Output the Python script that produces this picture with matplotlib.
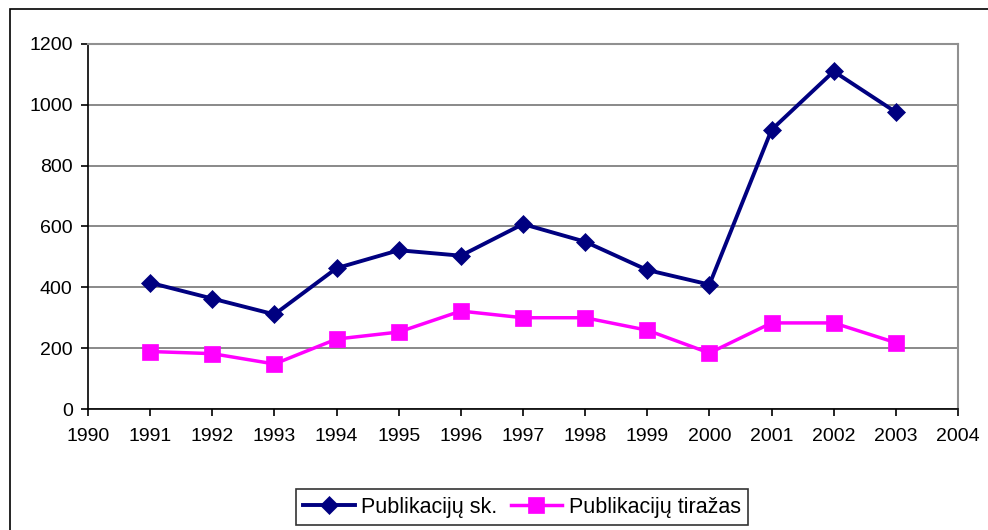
import matplotlib
matplotlib.use("Agg")
import matplotlib.pyplot as plt
from matplotlib.patches import Rectangle

years = [1991, 1992, 1993, 1994, 1995, 1996, 1997, 1998, 1999, 2000, 2001, 2002, 2003]
publikaciju_sk = [415, 363, 311, 463, 522, 504, 608, 550, 457, 409, 918, 1110, 976]
publikaciju_tirazas = [189, 182, 148, 230, 253, 322, 300, 300, 259, 184, 283, 283, 218]
x_ticks = list(range(1990, 2005))
y_ticks = [0, 200, 400, 600, 800, 1000, 1200]

plt.rcParams["font.family"] = ["Liberation Sans", "DejaVu Sans"]

fig = plt.figure(figsize=(9.88, 5.30), dpi=100)
ax = fig.add_axes([88 / 988, 1 - 409 / 530, 870 / 988, 365 / 530])

# outer chart frame (runs off right/bottom edge like the source)
fig.patches.append(Rectangle((10 / 988, -0.05), 1.2, (530 - 9) / 530 + 0.05,
                             transform=fig.transFigure, fill=False,
                             edgecolor="black", linewidth=1.2))

ax.plot(years, publikaciju_sk, color="#000080", linewidth=2.8, marker="D",
        markersize=9.5, markeredgewidth=0.5, label="Publikacijų sk.")
ax.plot(years, publikaciju_tirazas, color="#FF00FF", linewidth=2.5, marker="s",
        markersize=12, markeredgewidth=0.5, label="Publikacijų tiražas")

ax.set_xlim(1990, 2004)
ax.set_ylim(0, 1200)
ax.set_xticks(x_ticks)
ax.set_yticks(y_ticks)
ax.tick_params(axis="both", labelsize=14, direction="out", length=5, width=1.2)
ax.tick_params(axis="x", pad=9)
ax.tick_params(axis="y", pad=6)

ax.grid(True, axis="y", color="#808080", linewidth=1.3)
ax.set_axisbelow(True)
for s in ["top", "right"]:
    ax.spines[s].set_color("#909090")
    ax.spines[s].set_linewidth(1.5)
for s in ["left", "bottom"]:
    ax.spines[s].set_color("black")
    ax.spines[s].set_linewidth(1.2)

leg = ax.legend(loc="center", bbox_to_anchor=(522 / 988, 23 / 530),
                bbox_transform=fig.transFigure, ncol=2, fontsize=15.5,
                frameon=True, fancybox=False, edgecolor="black",
                handlelength=2.4, columnspacing=0.6, handletextpad=0.3,
                borderpad=0.35)
leg.get_frame().set_linewidth(1.2)

fig.savefig("out.png", dpi=100)
